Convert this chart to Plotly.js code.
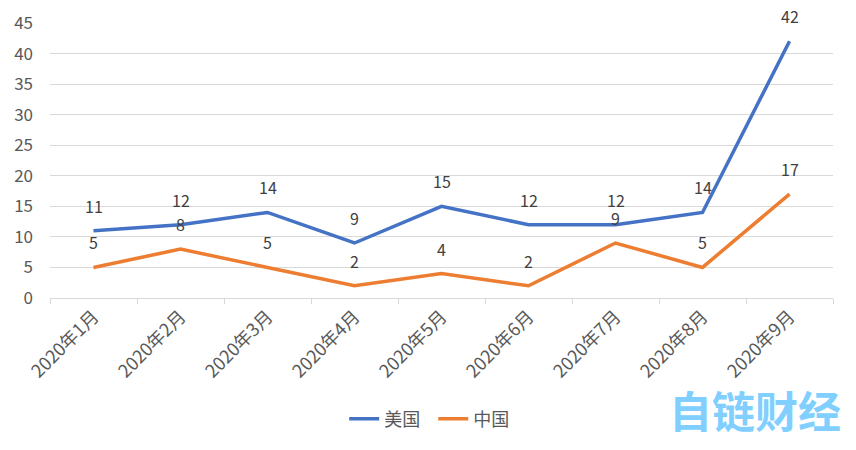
<!DOCTYPE html>
<html>
<head>
<meta charset="utf-8">
<script src="https://cdn.plot.ly/plotly-3.0.1.min.js"></script>
<style>html,body{margin:0;padding:0;background:#fff;}#chart{width:856px;height:450px;}</style>
</head>
<body>
<div id="chart"></div>
<script>
const categories = ["2020年1月","2020年2月","2020年3月","2020年4月","2020年5月","2020年6月","2020年7月","2020年8月","2020年9月"];
const usValues = [11,12,14,9,15,12,12,14,42];
const cnValues = [5,8,5,2,4,2,9,5,17];
const seriesNames = ["美国","中国"];
const yTicks = [0,5,10,15,20,25,30,35,40,45];

const FONT = "'Noto Sans CJK SC', 'Noto Sans', sans-serif";
const colors = ["#4472C4","#ED7D31"];

const traces = [usValues, cnValues].map((vals, i) => ({
  type: "scatter",
  mode: "lines",
  x: categories,
  y: vals,
  name: seriesNames[i] + "  ",
  line: {color: colors[i], width: 3.5},
  hoverinfo: "skip"
}));

const annotations = [];
[usValues, cnValues].forEach((vals) => {
  vals.forEach((v, j) => {
    annotations.push({
      x: categories[j], y: v, xref: "x", yref: "y",
      text: String(v), showarrow: false, yshift: 25,
      font: {family: FONT, size: 16, color: "#404040"}
    });
  });
});
annotations.push({
  x: 0.9, y: -0.405, xref: "paper", yref: "paper",
  text: "<b>自链财经</b>", showarrow: false,
  xanchor: "center", yanchor: "middle",
  font: {family: FONT, size: 43, color: "#80CFFF"}
});

const layout = {
  width: 856, height: 450,
  margin: {l: 50, r: 23, t: 23, b: 152},
  paper_bgcolor: "#fff", plot_bgcolor: "#fff",
  showlegend: true,
  legend: {orientation: "h", x: 0.49, xanchor: "center", y: -0.44, yanchor: "middle",
    font: {family: FONT, size: 18, color: "#595959"}},
  xaxis: {
    type: "category",
    showgrid: false, zeroline: false,
    showline: true, linecolor: "#d9d9d9", linewidth: 1,
    ticks: "outside", tickson: "boundaries", ticklen: 5, tickcolor: "#d9d9d9",
    tickangle: -45,
    tickfont: {family: FONT, size: 18, color: "#595959"},
    range: [-0.5, categories.length - 0.5],
    fixedrange: true
  },
  yaxis: {
    range: [0, 45],
    tickvals: yTicks,
    showgrid: true, gridcolor: "#d9d9d9", gridwidth: 1,
    zeroline: false, showline: false,
    tickfont: {family: FONT, size: 17, color: "#595959"},
    ticklen: 0, ticks: "", ticklabelstandoff: 16,
    fixedrange: true
  },
  annotations: annotations
};

Plotly.newPlot("chart", traces, layout, {displayModeBar: false, staticPlot: true});
</script>
</body>
</html>
